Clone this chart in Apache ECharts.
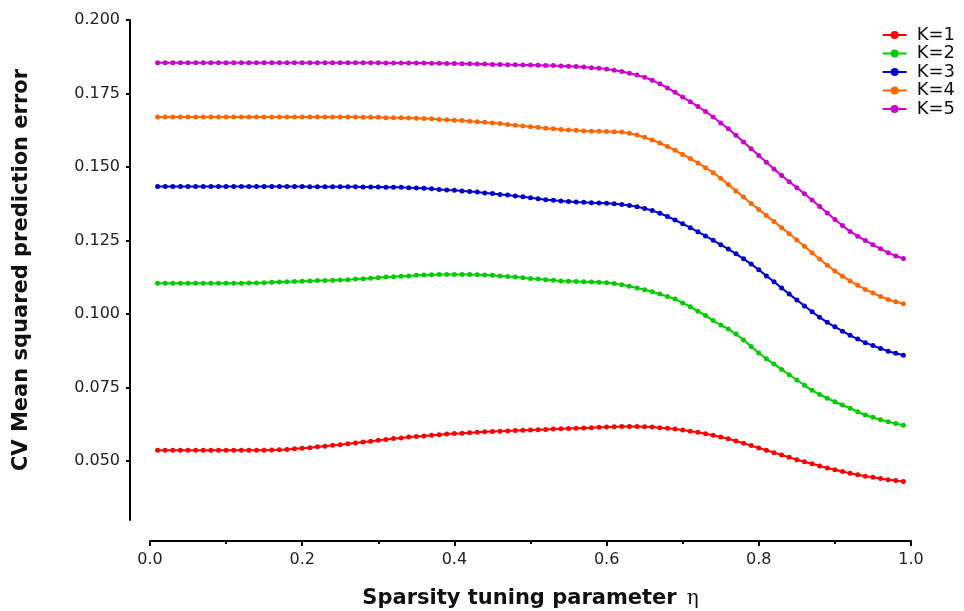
<!DOCTYPE html>
<html>
<head>
<meta charset="utf-8">
<script src="https://cdn.jsdelivr.net/npm/echarts@6/dist/echarts.min.js"></script>
<style>
  html, body { margin: 0; padding: 0; background: #fff; }
  #chart { width: 964px; height: 611px; }
</style>
</head>
<body>
<div id="chart"></div>
<script>
// Sparsity tuning parameter grid
const eta = [
  0.01, 0.02, 0.03, 0.04, 0.05, 0.06, 0.07, 0.08, 0.09, 0.10,
  0.11, 0.12, 0.13, 0.14, 0.15, 0.16, 0.17, 0.18, 0.19, 0.20,
  0.21, 0.22, 0.23, 0.24, 0.25, 0.26, 0.27, 0.28, 0.29, 0.30,
  0.31, 0.32, 0.33, 0.34, 0.35, 0.36, 0.37, 0.38, 0.39, 0.40,
  0.41, 0.42, 0.43, 0.44, 0.45, 0.46, 0.47, 0.48, 0.49, 0.50,
  0.51, 0.52, 0.53, 0.54, 0.55, 0.56, 0.57, 0.58, 0.59, 0.60,
  0.61, 0.62, 0.63, 0.64, 0.65, 0.66, 0.67, 0.68, 0.69, 0.70,
  0.71, 0.72, 0.73, 0.74, 0.75, 0.76, 0.77, 0.78, 0.79, 0.80,
  0.81, 0.82, 0.83, 0.84, 0.85, 0.86, 0.87, 0.88, 0.89, 0.90,
  0.91, 0.92, 0.93, 0.94, 0.95, 0.96, 0.97, 0.98, 0.99
];

// CV mean squared prediction error for each number of components K
const k1 = [
  0.0537, 0.0537, 0.0537, 0.0537, 0.0537, 0.0537, 0.0537, 0.0537, 0.0537, 0.0537,
  0.0537, 0.0537, 0.0537, 0.0537, 0.0537, 0.0538, 0.0539, 0.0540, 0.0542, 0.0544,
  0.0546, 0.0549, 0.0551, 0.0554, 0.0556, 0.0559, 0.0562, 0.0565, 0.0568, 0.0571,
  0.0574, 0.0577, 0.0579, 0.0582, 0.0584, 0.0586, 0.0588, 0.0590, 0.0592, 0.0594,
  0.0595, 0.0597, 0.0598, 0.0600, 0.0601, 0.0602, 0.0603, 0.0604, 0.0605, 0.0606,
  0.0607, 0.0608, 0.0609, 0.0610, 0.0611, 0.0612, 0.0613, 0.0614, 0.0615, 0.0616,
  0.0617, 0.0618, 0.0618, 0.0618, 0.0617, 0.0616, 0.0614, 0.0612, 0.0609, 0.0606,
  0.0602, 0.0598, 0.0593, 0.0588, 0.0582, 0.0576, 0.0569, 0.0561, 0.0553, 0.0545,
  0.0537, 0.0529, 0.0521, 0.0513, 0.0505, 0.0498, 0.0491, 0.0484, 0.0477, 0.0471,
  0.0465, 0.0459, 0.0454, 0.0449, 0.0445, 0.0441, 0.0437, 0.0434, 0.0431
];
const k2 = [
  0.1105, 0.1105, 0.1105, 0.1105, 0.1105, 0.1105, 0.1105, 0.1105, 0.1105, 0.1105,
  0.1105, 0.1105, 0.1106, 0.1106, 0.1107, 0.1108, 0.1109, 0.1110, 0.1111, 0.1112,
  0.1113, 0.1114, 0.1114, 0.1115, 0.1116, 0.1117, 0.1119, 0.1120, 0.1122, 0.1124,
  0.1126, 0.1127, 0.1129, 0.1130, 0.1132, 0.1133, 0.1134, 0.1135, 0.1135, 0.1135,
  0.1135, 0.1135, 0.1134, 0.1133, 0.1132, 0.1130, 0.1128, 0.1126, 0.1124, 0.1121,
  0.1119, 0.1117, 0.1115, 0.1113, 0.1112, 0.1111, 0.1110, 0.1109, 0.1108, 0.1107,
  0.1104, 0.1100, 0.1095, 0.1089, 0.1083, 0.1076, 0.1068, 0.1060, 0.1051, 0.1038,
  0.1025, 0.1010, 0.0995, 0.0978, 0.0963, 0.0949, 0.0932, 0.0912, 0.0890, 0.0868,
  0.0848, 0.0830, 0.0812, 0.0794, 0.0776, 0.0758, 0.0741, 0.0727, 0.0714, 0.0702,
  0.0691, 0.0680, 0.0668, 0.0657, 0.0649, 0.0641, 0.0634, 0.0628, 0.0622
];
const k3 = [
  0.1434, 0.1434, 0.1434, 0.1434, 0.1434, 0.1434, 0.1434, 0.1434, 0.1434, 0.1434,
  0.1434, 0.1434, 0.1434, 0.1434, 0.1434, 0.1434, 0.1434, 0.1434, 0.1434, 0.1434,
  0.1433, 0.1433, 0.1433, 0.1433, 0.1433, 0.1433, 0.1433, 0.1432, 0.1432, 0.1432,
  0.1431, 0.1431, 0.1431, 0.1430, 0.1429, 0.1428, 0.1426, 0.1424, 0.1422, 0.1421,
  0.1419, 0.1417, 0.1415, 0.1412, 0.1410, 0.1407, 0.1405, 0.1402, 0.1399, 0.1396,
  0.1392, 0.1389, 0.1387, 0.1385, 0.1383, 0.1381, 0.1380, 0.1379, 0.1378, 0.1377,
  0.1375, 0.1373, 0.1369, 0.1365, 0.1359, 0.1352, 0.1343, 0.1332, 0.1320, 0.1307,
  0.1294, 0.1280, 0.1266, 0.1251, 0.1236, 0.1221, 0.1205, 0.1188, 0.1170, 0.1151,
  0.1130, 0.1110, 0.1089, 0.1068, 0.1048, 0.1028, 0.1008, 0.0989, 0.0972, 0.0957,
  0.0942, 0.0928, 0.0915, 0.0903, 0.0893, 0.0883, 0.0874, 0.0867, 0.0860
];
const k4 = [
  0.1670, 0.1670, 0.1670, 0.1670, 0.1670, 0.1670, 0.1670, 0.1670, 0.1670, 0.1670,
  0.1670, 0.1670, 0.1670, 0.1670, 0.1670, 0.1670, 0.1670, 0.1670, 0.1670, 0.1670,
  0.1670, 0.1670, 0.1670, 0.1670, 0.1670, 0.1670, 0.1670, 0.1669, 0.1669, 0.1669,
  0.1668, 0.1668, 0.1668, 0.1667, 0.1666, 0.1665, 0.1664, 0.1662, 0.1661, 0.1659,
  0.1658, 0.1656, 0.1654, 0.1652, 0.1650, 0.1648, 0.1645, 0.1642, 0.1640, 0.1637,
  0.1635, 0.1632, 0.1630, 0.1628, 0.1626, 0.1625, 0.1623, 0.1622, 0.1622, 0.1621,
  0.1620, 0.1619, 0.1615, 0.1609, 0.1601, 0.1592, 0.1582, 0.1570, 0.1557, 0.1543,
  0.1529, 0.1514, 0.1498, 0.1481, 0.1462, 0.1441, 0.1419, 0.1398, 0.1376, 0.1356,
  0.1335, 0.1315, 0.1294, 0.1273, 0.1252, 0.1231, 0.1209, 0.1187, 0.1166, 0.1147,
  0.1129, 0.1113, 0.1098, 0.1084, 0.1072, 0.1060, 0.1050, 0.1042, 0.1035
];
const k5 = [
  0.1855, 0.1855, 0.1855, 0.1855, 0.1855, 0.1855, 0.1855, 0.1855, 0.1855, 0.1855,
  0.1855, 0.1855, 0.1855, 0.1855, 0.1855, 0.1855, 0.1855, 0.1855, 0.1855, 0.1855,
  0.1855, 0.1855, 0.1855, 0.1855, 0.1855, 0.1855, 0.1855, 0.1855, 0.1855, 0.1855,
  0.1854, 0.1854, 0.1854, 0.1854, 0.1854, 0.1854, 0.1853, 0.1853, 0.1852, 0.1852,
  0.1851, 0.1851, 0.1850, 0.1850, 0.1849, 0.1849, 0.1848, 0.1848, 0.1847, 0.1847,
  0.1846, 0.1845, 0.1845, 0.1844, 0.1843, 0.1842, 0.1840, 0.1838, 0.1836, 0.1833,
  0.1829, 0.1825, 0.1819, 0.1813, 0.1805, 0.1795, 0.1783, 0.1769, 0.1754, 0.1738,
  0.1722, 0.1706, 0.1689, 0.1670, 0.1650, 0.1630, 0.1608, 0.1585, 0.1562, 0.1539,
  0.1516, 0.1493, 0.1471, 0.1450, 0.1430, 0.1409, 0.1388, 0.1366, 0.1344, 0.1322,
  0.1301, 0.1281, 0.1265, 0.1250, 0.1236, 0.1222, 0.1209, 0.1198, 0.1189
];

const seriesNames = ['K=1', 'K=2', 'K=3', 'K=4', 'K=5'];
const seriesValues = [k1, k2, k3, k4, k5];
const seriesColors = ['#ff0000', '#00cc00', '#0000cc', '#ff6600', '#cc00cc'];

// Tick labels
const yTicks = [0.050, 0.075, 0.100, 0.125, 0.150, 0.175, 0.200];
const xTicks = [0.0, 0.2, 0.4, 0.6, 0.8, 1.0];

const FONT = '"DejaVu Sans", Verdana, sans-serif';

const chart = echarts.init(document.getElementById('chart'), null, { renderer: 'canvas' });

chart.setOption({
  animation: false,
  backgroundColor: '#ffffff',
  grid: { left: 150, right: 53, top: 20, bottom: 91, containLabel: false, outerBoundsMode: 'none' },
  legend: {
    orient: 'vertical',
    right: 4,
    top: 21,
    itemWidth: 24,
    itemHeight: 10,
    itemGap: 0.5,
    data: seriesNames,
    textStyle: { fontFamily: FONT, fontSize: 18, color: '#111', lineHeight: 18, padding: [0, 0, 0, 5] }
  },
  xAxis: {
    type: 'value',
    min: 0,
    max: 1,
    interval: 0.2,
    offset: 21,
    name: '{b|Sparsity tuning parameter}{e|η}',
    nameLocation: 'middle',
    nameGap: 47,
    nameTextStyle: {
      rich: {
        b: { fontFamily: FONT, fontWeight: 'bold', fontSize: 21, color: '#111' },
        e: { fontFamily: '"DejaVu Serif", serif', fontSize: 20, color: '#111', padding: [0, 0, 0, 10] }
      }
    },
    axisLine: { show: true, onZero: false, lineStyle: { color: '#000', width: 2 } },
    axisTick: { show: true, length: 5, lineStyle: { color: '#000', width: 2 } },
    minorTick: { show: true, splitNumber: 2, length: 3, lineStyle: { color: '#000', width: 2 } },
    splitLine: { show: false },
    minorSplitLine: { show: false },
    axisLabel: {
      margin: 11,
      fontFamily: FONT,
      fontSize: 16,
      color: '#222',
      customValues: xTicks,
      formatter: v => v.toFixed(1)
    }
  },
  yAxis: {
    type: 'value',
    min: 0.03,
    max: 0.2,
    offset: 20,
    name: 'CV Mean squared prediction error',
    nameLocation: 'middle',
    nameGap: 98,
    nameTextStyle: { fontFamily: FONT, fontWeight: 'bold', fontSize: 21, color: '#111' },
    axisLine: { show: true, onZero: false, lineStyle: { color: '#000', width: 2 } },
    axisTick: { show: true, length: 4, customValues: yTicks, lineStyle: { color: '#000', width: 2 } },
    splitLine: { show: false },
    axisLabel: {
      margin: 10,
      fontFamily: FONT,
      fontSize: 16,
      color: '#222',
      customValues: yTicks,
      formatter: v => v.toFixed(3)
    }
  },
  series: seriesNames.map((name, i) => ({
    name: name,
    type: 'line',
    data: eta.map((x, j) => [x, seriesValues[i][j]]),
    symbol: 'circle',
    symbolSize: 5,
    showSymbol: true,
    showAllSymbol: true,
    lineStyle: { width: 2, color: seriesColors[i] },
    itemStyle: { color: seriesColors[i] },
    emphasis: { disabled: true }
  }))
});
</script>
</body>
</html>
